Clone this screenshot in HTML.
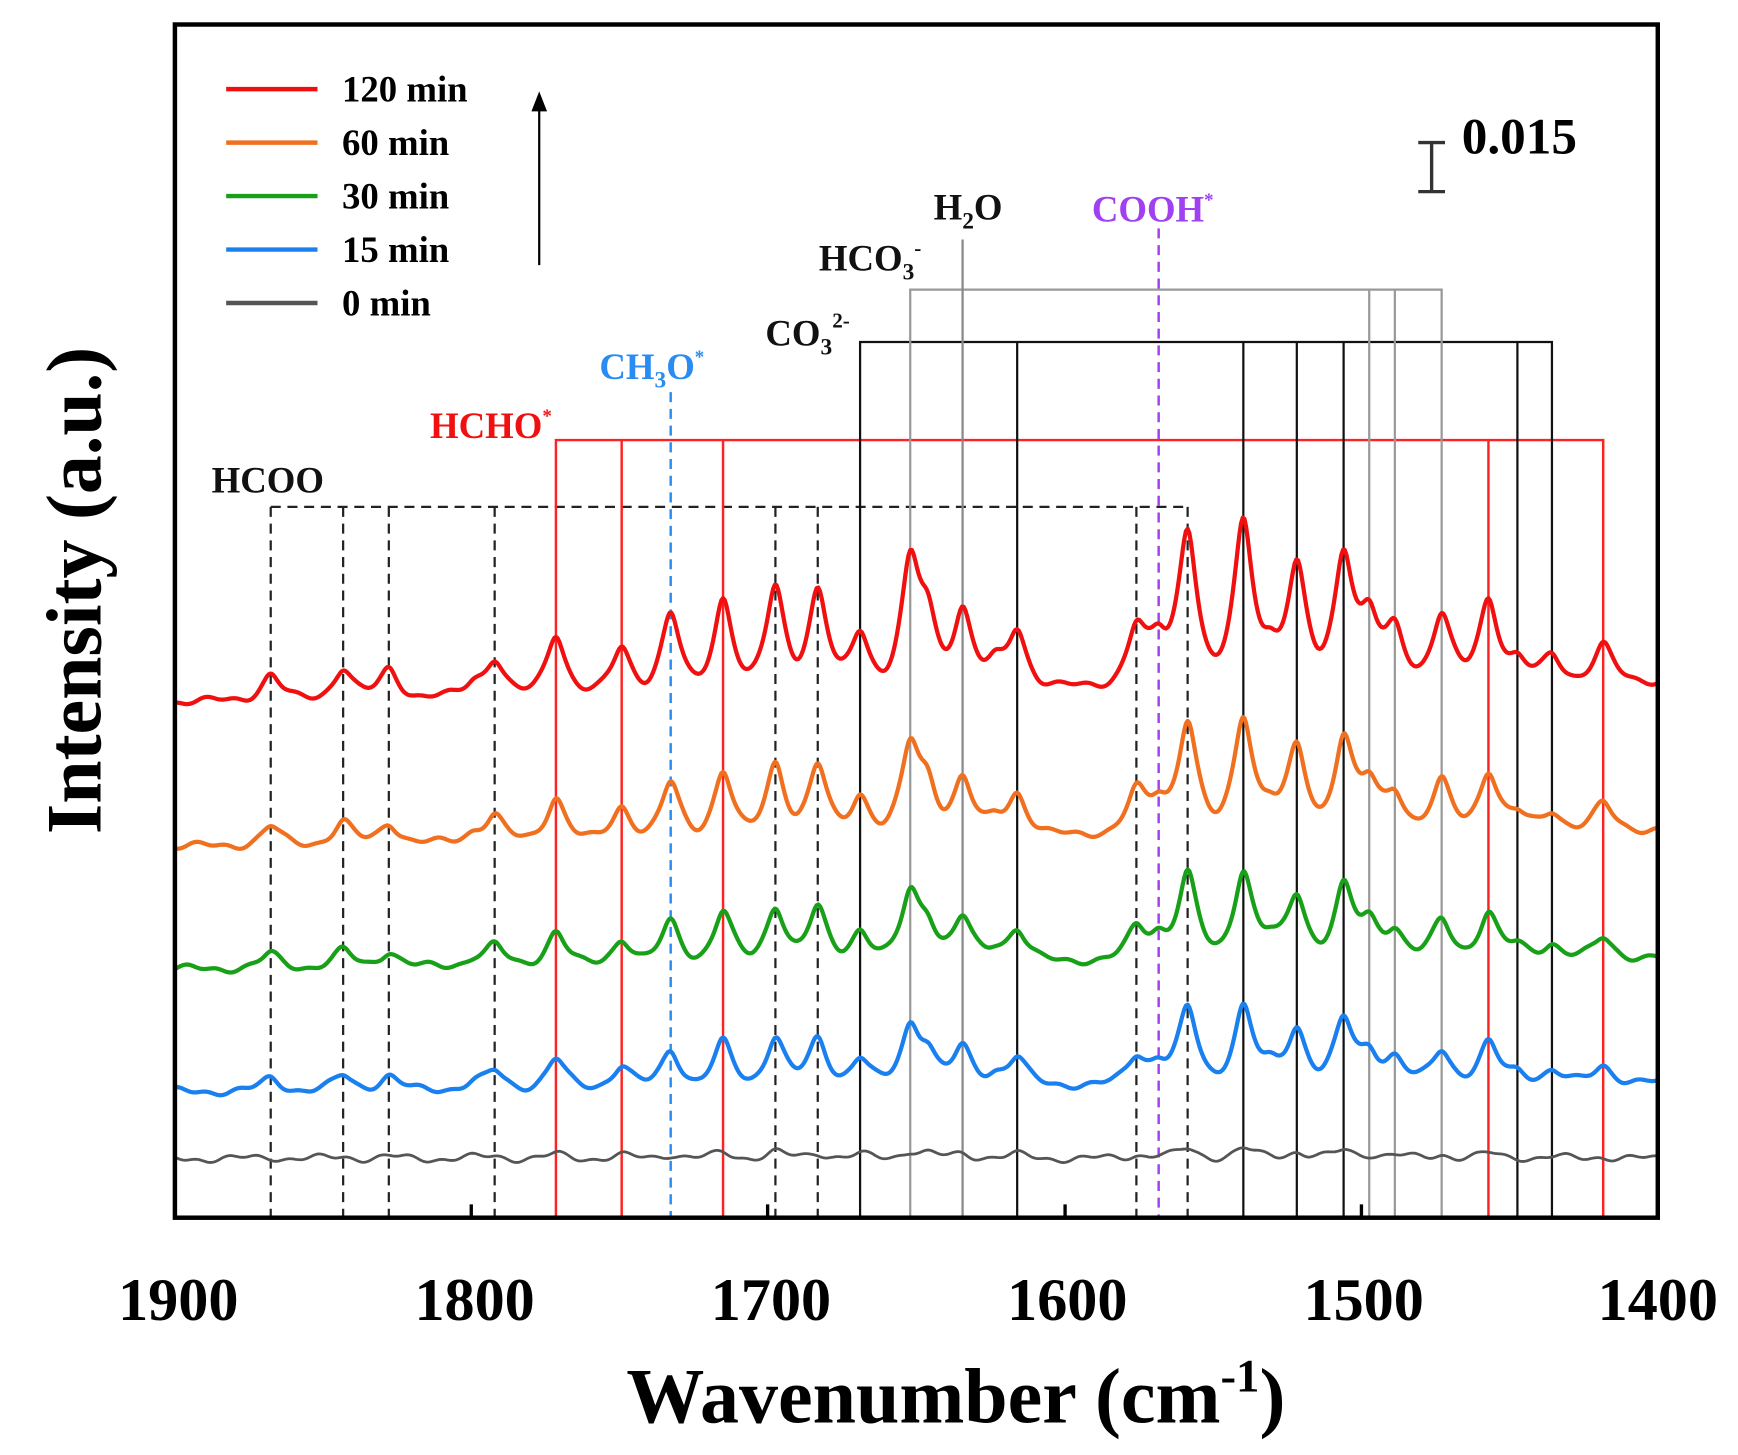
<!DOCTYPE html>
<html><head><meta charset="utf-8"><style>
html,body{margin:0;padding:0;background:#fff;}
svg{display:block;font-family:"Liberation Serif",serif;font-weight:bold;}
</style></head><body>
<svg id="s" width="1738" height="1455" viewBox="0 0 1560 1306" preserveAspectRatio="none" xmlns="http://www.w3.org/2000/svg">
<g id="ann" fill="none">
<g stroke="#222" stroke-width="2" stroke-dasharray="9,6">
<path d="M243 455H1066M243 455V1093M308 455V1093M349 455V1093M444 455V1093M696 455V1093M734 455V1093M1020 455V1093M1066 455V1093"/>
</g>
<g stroke="#f22" stroke-width="2.2"><path d="M499 1093V395H1439V1093M558 395V1093M649 395V1093M1336 395V1093"/></g>
<path d="M602 352V1093" stroke="#2a8cf0" stroke-width="2.2" stroke-dasharray="9,6"/>
<g stroke="#111" stroke-width="2"><path d="M772 1093V307H1393V1093M913 307V1093M1116 307V1093M1164 307V1093M1206 307V1093M1362 307V1093"/></g>
<g stroke="#999" stroke-width="2"><path d="M817 1093V260H1294V1093M1229 260V1093M1252 260V1093"/></g>
<path d="M864 215V1093" stroke="#888" stroke-width="2"/>
<path d="M1040 205V1093" stroke="#a040f0" stroke-width="2.2" stroke-dasharray="9,6"/>
</g>
<g id="spec" fill="none" stroke-width="3.8" stroke-linejoin="round"></g>
<rect x="157" y="22" width="1331" height="1071" fill="none" stroke="#000" stroke-width="4"/>
<g stroke="#000" stroke-width="3">
<path d="M157 1093v-12M423 1093v-12M689 1093v-12M956 1093v-12M1222 1093v-12M1488 1093v-12"/>
</g>
<g font-size="54" text-anchor="middle" fill="#000">
<text x="160" y="1185">1900</text><text x="426" y="1185">1800</text><text x="692" y="1185">1700</text><text x="958" y="1185">1600</text><text x="1224" y="1185">1500</text><text x="1488" y="1185">1400</text>
</g>
<text x="858" y="1277" font-size="70" text-anchor="middle">Wavenumber (cm<tspan dy="-28" font-size="42">-1</tspan><tspan dy="28">)</tspan></text>
<text transform="translate(90,530) rotate(-90)" font-size="70" text-anchor="middle">Intensity (a.u.)</text>
<g stroke-width="4">
<path d="M203 80H285" stroke="#f01010"/><path d="M203 128H285" stroke="#f07020"/><path d="M203 176H285" stroke="#18a018"/><path d="M203 224H285" stroke="#1a80f0"/><path d="M203 272H285" stroke="#555"/>
</g>
<g font-size="33" fill="#000">
<text x="307" y="91">120 min</text><text x="307" y="139">60 min</text><text x="307" y="187">30 min</text><text x="307" y="235">15 min</text><text x="307" y="283">0 min</text>
</g>
<path d="M484 238V95" stroke="#000" stroke-width="2"/><path d="M477 100L484 82L491 100Z" fill="#000"/>
<path d="M1273 128H1297M1285 128V172M1273 172H1297" stroke="#333" stroke-width="3" fill="none"/>
<text x="1312" y="138" font-size="46">0.015</text>
<g font-size="33">
<text x="190" y="442" fill="#111">HCOO</text>
<text x="386" y="393" fill="#f01010">HCHO<tspan dy="-14" font-size="17">*</tspan></text>
<text x="538" y="340" fill="#2a8cf0">CH<tspan dy="8" font-size="21">3</tspan><tspan dy="-8">O</tspan><tspan dy="-14" font-size="17">*</tspan></text>
<text x="687" y="310" fill="#111">CO<tspan dy="8" font-size="21">3</tspan><tspan dy="-24" font-size="19">2-</tspan></text>
<text x="735" y="243" fill="#111">HCO<tspan dy="8" font-size="21">3</tspan><tspan dy="-22" font-size="19">-</tspan></text>
<text x="838" y="197" fill="#111">H<tspan dy="8" font-size="21">2</tspan><tspan dy="-8">O</tspan></text>
<text x="980" y="199" fill="#a040f0">COOH<tspan dy="-14" font-size="17">*</tspan></text>
</g>
</svg>
<script>
var peaks=[[243,25],[308,30],[349,28],[425,12],[444,35],[499,60],[558,45],[602,75],[649,90],[696,100],[734,95],[772,55],[817,115],[833,60],[864,75],[893,20],[913,55],[1020,55],[1040,40],[1066,150],[1116,155],[1140,30],[1164,110],[1206,125],[1229,60],[1252,50],[1294,65],[1336,80],[1362,20],[1393,25],[1439,35]];
var sets=[[630,-18,1,"#f01010"],[760,-15,0.72,"#f07020"],[870,-10,0.55,"#18a018"],[980,-8,0.48,"#1a80f0"],[1040,0,0.06,"#555"]];
var g=document.getElementById("spec"),h="";
sets.forEach(function(s,k){var d="";for(var x=157;x<=1488;x+=1.5){var y=s[0]+s[1]*(x-157)/1331;var v=0;
peaks.forEach(function(p){var w=8.5;var t=(x-p[0])/w;v+=p[1]*0.92*(1/(1+t*t)*0.6+0.4*Math.exp(-t*t/3));});
v=v*s[2]-2.5*Math.sin(x*0.09+k)-1.5*Math.sin(x*0.23+k*2);
y-=v; d+=(d?"L":"M")+x.toFixed(1)+" "+y.toFixed(1);}
h+='<path d="'+d+'" stroke="'+s[3]+'" '+(k==4?'stroke-width="2.5"':'')+'/>';});
g.innerHTML=h;
</script>
</body></html>
